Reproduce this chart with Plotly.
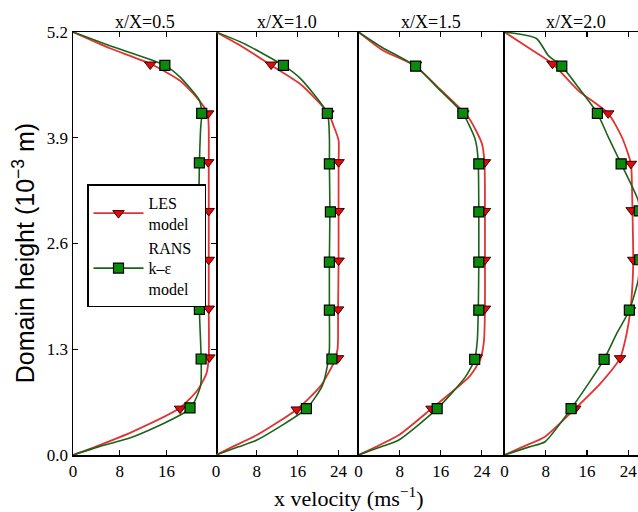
import plotly.graph_objects as go

# ---------------- data ----------------
panel_titles = ["x/X=0.5", "x/X=1.0", "x/X=1.5", "x/X=2.0"]
y_ticks = [0.0, 1.3, 2.6, 3.9, 5.2]

# x/X = 0.5
h1_les = [0, 0.1, 0.29, 0.58, 0.8, 1.0, 1.2, 1.8, 2.4, 3.0, 3.6, 4.0, 4.2, 4.4, 4.6, 4.81, 5.0, 5.2]
v1_les = [0, 3.8, 10.3, 18.3, 21.3, 22.8, 23.2, 23.2, 23.2, 23.2, 23.2, 23.2, 23.0, 21.1, 18.3, 13.2, 6.3, 0]
h1_rans = [0, 0.1, 0.225, 0.57, 0.85, 1.18, 1.78, 2.4, 3.0, 3.59, 4.0, 4.2, 4.36, 4.645, 4.79, 5.03, 5.2]
v1_rans = [0, 4.3, 10.3, 20.0, 21.8, 21.9, 21.6, 21.5, 21.5, 21.6, 21.8, 22.0, 21.6, 18.3, 15.7, 6.3, 0]
m1_les_h = [0.57, 1.2, 1.8, 2.4, 3.0, 3.6, 4.2, 4.8]
m1_les_v = [18.3, 23.3, 23.2, 23.2, 23.2, 23.1, 23.1, 13.2]
m1_rans_h = [0.58, 1.18, 1.79, 2.4, 3.0, 3.59, 4.2, 4.79]
m1_rans_v = [20.0, 21.9, 21.6, 21.5, 21.5, 21.6, 22.0, 15.7]

# x/X = 1.0
h2_les = [0, 0.1, 0.245, 0.56, 0.85, 1.13, 1.3, 1.8, 2.4, 3.0, 3.6, 3.87, 4.05, 4.2, 4.56, 4.79, 5.01, 5.2]
v2_les = [0, 3.2, 8.0, 15.8, 20.5, 23.0, 23.8, 23.9, 24.0, 24.0, 24.0, 24.0, 23.0, 22.0, 16.5, 10.8, 5.4, 0]
h2_rans = [0, 0.1, 0.184, 0.57, 0.85, 1.13, 1.3, 1.78, 2.4, 3.0, 3.58, 3.9, 4.2, 4.63, 4.79, 5.06, 5.2]
v2_rans = [0, 4.4, 8.0, 17.7, 20.8, 21.9, 22.2, 22.2, 22.2, 22.3, 22.2, 22.2, 21.8, 16.5, 13.2, 5.4, 0]
m2_les_h = [0.56, 1.19, 1.79, 2.39, 3.0, 3.6, 4.2, 4.8]
m2_les_v = [15.8, 23.9, 23.9, 24.0, 24.0, 24.0, 22.0, 10.8]
m2_rans_h = [0.57, 1.18, 1.78, 2.37, 2.99, 3.58, 4.2, 4.79]
m2_rans_v = [17.7, 22.7, 22.2, 22.2, 22.4, 22.2, 21.8, 13.2]

# x/X = 1.5
h3_les = [0, 0.1, 0.245, 0.57, 0.96, 1.175, 1.4, 1.8, 2.4, 3.0, 3.6, 3.83, 4.15, 4.5, 4.78, 4.98, 5.2]
v3_les = [0, 3.4, 7.85, 14.2, 21.5, 23.7, 24.4, 24.6, 24.6, 24.6, 24.5, 24.0, 21.4, 15.8, 11.1, 4.6, 0]
h3_rans = [0, 0.1, 0.184, 0.57, 0.96, 1.175, 1.4, 1.78, 2.37, 2.99, 3.58, 3.79, 3.9, 4.2, 4.5, 4.78, 5.01, 5.2]
v3_rans = [0, 4.4, 7.85, 15.3, 20.8, 22.6, 23.1, 23.3, 23.4, 23.4, 23.3, 23.0, 22.6, 20.3, 15.6, 11.1, 4.6, 0]
m3_les_h = [0.57, 1.2, 1.8, 2.4, 3.0, 3.6, 4.2, 4.8]
m3_les_v = [14.2, 23.0, 24.6, 24.6, 24.6, 24.6, 20.4, 11.2]
m3_rans_h = [0.57, 1.175, 1.78, 2.37, 2.99, 3.58, 4.2, 4.78]
m3_rans_v = [15.3, 22.6, 23.4, 23.4, 23.4, 23.4, 20.3, 11.1]

# x/X = 2.0
h4_les = [0, 0.1, 0.225, 0.57, 0.88, 1.19, 1.5, 1.78, 2.1, 2.4, 3.0, 3.3, 3.58, 3.9, 4.2, 4.48, 4.81, 5.0, 5.2]
v4_les = [0, 3.5, 7.85, 13.7, 18.6, 22.4, 23.7, 24.4, 24.8, 24.95, 24.8, 24.7, 24.5, 22.8, 20.1, 14.3, 9.3, 4.8, 0]
h4_rans = [0, 0.1, 0.163, 0.57, 0.88, 1.175, 1.5, 1.78, 2.15, 2.4, 2.7, 3.0, 3.13, 3.58, 3.91, 4.2, 4.52, 4.78, 4.91, 5.12, 5.2]
v4_rans = [0, 4.8, 7.85, 12.9, 16.3, 19.3, 21.8, 24.2, 25.9, 26.2, 26.3, 26.1, 25.9, 22.6, 20.1, 18.0, 14.3, 11.1, 8.5, 6.2, 0]
m4_les_h = [0.57, 1.19, 1.78, 2.4, 3.01, 3.58, 4.2, 4.81]
m4_les_v = [13.7, 22.4, 24.3, 24.95, 24.65, 24.5, 20.1, 9.3]
m4_rans_h = [0.57, 1.175, 1.78, 2.4, 3.0, 3.58, 4.2, 4.78]
m4_rans_v = [12.9, 19.3, 24.2, 26.2, 26.1, 22.6, 18.0, 11.1]

x_ranges = [[0, 24.44], [0, 27.9], [0, 28.4], [0, 25.87]]
x_tickvals = [[0, 8, 16], [0, 8, 16, 24], [0, 8, 16, 24], [0, 8, 16, 24]]

panels = [
    (h1_les, v1_les, h1_rans, v1_rans, m1_les_h, m1_les_v, m1_rans_h, m1_rans_v),
    (h2_les, v2_les, h2_rans, v2_rans, m2_les_h, m2_les_v, m2_rans_h, m2_rans_v),
    (h3_les, v3_les, h3_rans, v3_rans, m3_les_h, m3_les_v, m3_rans_h, m3_rans_v),
    (h4_les, v4_les, h4_rans, v4_rans, m4_les_h, m4_les_v, m4_rans_h, m4_rans_v),
]

# ---------------- geometry ----------------
W, H = 638, 512
PLOT_L, PLOT_T, PLOT_B = 73, 31.5, 455
ML, MT, MB, MR = PLOT_L, PLOT_T, H - PLOT_B, 0
PW = W - ML - MR
PH = H - MT - MB
edges_px = [73, 216, 358.5, 504.5, 638]
domains = [[(edges_px[i] - PLOT_L) / PW, min(1.0, (edges_px[i + 1] - PLOT_L) / PW)] for i in range(4)]


def px_x(x):
    return (x - PLOT_L) / PW


def px_y(y):
    return (PLOT_B - y) / PH


RED_LINE = "rgb(226,50,50)"
GREEN_LINE = "rgb(25,100,25)"
RED_MK = "rgb(225,10,10)"
GREEN_MK = "rgb(10,140,10)"
SERIF = "Liberation Serif"

fig = go.Figure()

for i, (hl, vl, hr, vr, mlh, mlv, mrh, mrv) in enumerate(panels):
    xa = "x" if i == 0 else f"x{i+1}"
    ya = "y" if i == 0 else f"y{i+1}"
    fig.add_trace(go.Scatter(x=vl, y=hl, mode="lines", xaxis=xa, yaxis=ya,
                             line=dict(color=RED_LINE, width=1.8, shape="spline", smoothing=0.6),
                             showlegend=False, hoverinfo="skip"))
    fig.add_trace(go.Scatter(x=vr, y=hr, mode="lines", xaxis=xa, yaxis=ya,
                             line=dict(color=GREEN_LINE, width=1.6, shape="spline", smoothing=0.6),
                             showlegend=False, hoverinfo="skip"))
    fig.add_trace(go.Scatter(x=mlv, y=mlh, mode="markers", xaxis=xa, yaxis=ya,
                             marker=dict(symbol="triangle-down", size=10, color=RED_MK,
                                         line=dict(color="rgb(60,0,0)", width=1)),
                             showlegend=False, hoverinfo="skip"))
    fig.add_trace(go.Scatter(x=mrv, y=mrh, mode="markers", xaxis=xa, yaxis=ya,
                             marker=dict(symbol="square", size=10, color=GREEN_MK,
                                         line=dict(color="black", width=1.2)),
                             showlegend=False, hoverinfo="skip"))

# legend entries
fig.add_trace(go.Scatter(x=[None], y=[None], mode="lines+markers", name="LES<br>model",
                         line=dict(color=RED_LINE, width=1.8),
                         marker=dict(symbol="triangle-down", size=10, color=RED_MK,
                                     line=dict(color="rgb(60,0,0)", width=1))))
fig.add_trace(go.Scatter(x=[None], y=[None], mode="lines+markers",
                         name="RANS\u00a0\u00a0<br>k–ε<br>model",
                         line=dict(color=GREEN_LINE, width=1.6),
                         marker=dict(symbol="square", size=10, color=GREEN_MK,
                                     line=dict(color="black", width=1.2))))

layout = dict(
    width=W, height=H,
    margin=dict(l=ML, r=MR, t=MT, b=MB, pad=0, autoexpand=False),
    paper_bgcolor="white", plot_bgcolor="white",
    font=dict(family=SERIF, size=17, color="black"),
    showlegend=True,
    legend=dict(x=px_x(87), y=px_y(184), xanchor="left", yanchor="top",
                bgcolor="white", bordercolor="black", borderwidth=1.5,
                font=dict(family=SERIF, size=16, color="black"),
                itemwidth=50, tracegroupgap=2),
)

for i in range(4):
    xk = "xaxis" if i == 0 else f"xaxis{i+1}"
    yk = "yaxis" if i == 0 else f"yaxis{i+1}"
    layout[xk] = dict(domain=domains[i], range=x_ranges[i], anchor="y" if i == 0 else f"y{i+1}",
                      showline=True, linecolor="black", linewidth=1.5, mirror="ticks",
                      ticks="inside", ticklen=5, tickwidth=1.2, tickcolor="black",
                      tickvals=x_tickvals[i],
                      showgrid=False, zeroline=False, fixedrange=True,
                      tickfont=dict(family=SERIF, size=17))
    if i == 0:
        layout[yk] = dict(domain=[0, 1], range=[0, 5.2], anchor="x",
                          showline=True, linecolor="black", linewidth=1.5, mirror="ticks",
                          ticks="inside", ticklen=5, tickwidth=1.2, tickcolor="black",
                          tickvals=y_ticks, tickformat=".1f",
                          showgrid=False, zeroline=False, fixedrange=True,
                          tickfont=dict(family=SERIF, size=17))
    elif i == 1:
        layout[yk] = dict(domain=[0, 1], range=[0, 5.2], anchor=f"x{i+1}", matches="y",
                          showline=False, ticks="", showticklabels=False,
                          showgrid=False, zeroline=False, fixedrange=True)
    else:
        layout[yk] = dict(domain=[0, 1], range=[0, 5.2], anchor=f"x{i+1}", matches="y",
                          showline=True, linecolor="black", linewidth=1.5, mirror=False,
                          ticks="", showticklabels=False,
                          showgrid=False, zeroline=False, fixedrange=True)

annotations = []
title_centers = [144.5, 287, 431, 576]
for i, t in enumerate(panel_titles):
    annotations.append(dict(text=t, xref="paper", yref="paper",
                            x=px_x(title_centers[i]), y=px_y(21), yanchor="middle", xanchor="center",
                            showarrow=False, font=dict(family=SERIF, size=18)))
annotations.append(dict(text="x velocity (ms<sup>−1</sup>)", xref="paper", yref="paper",
                        x=px_x(349), y=px_y(497),
                        xanchor="center", yanchor="middle", showarrow=False,
                        font=dict(family=SERIF, size=22)))
annotations.append(dict(text="Domain height (10<sup>−3</sup> m)", xref="paper", yref="paper",
                        x=px_x(24), y=px_y(253),
                        xanchor="center", yanchor="middle", textangle=-90, showarrow=False,
                        font=dict(family="Liberation Sans", size=25)))
layout["annotations"] = annotations

fig.update_layout(**layout)
fig.write_html("out.html",
               config={"displayModeBar": False, "staticPlot": True},
               post_script="document.body.style.margin='0';document.body.style.overflow='hidden';")
